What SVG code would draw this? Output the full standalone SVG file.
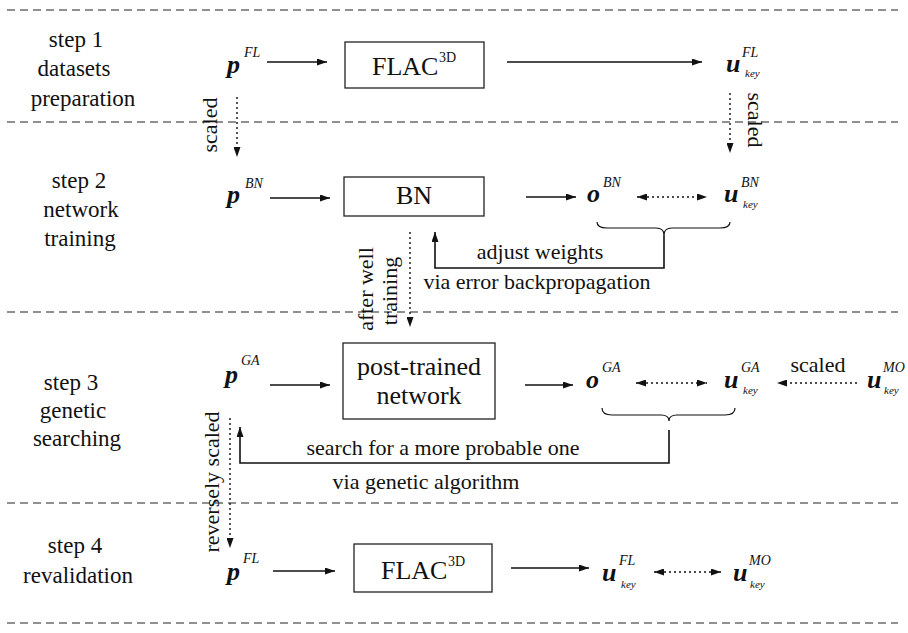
<svg xmlns="http://www.w3.org/2000/svg" width="908" height="633" viewBox="0 0 908 633">
<defs>
<style>
text{font-family:"Liberation Serif","Times New Roman",serif;fill:#111}
.step{font-size:23px;text-anchor:middle}
.lbl{font-size:22px}
.mid{text-anchor:middle}
.bt{font-size:26px}
.var{font-size:26px;font-weight:bold;font-style:italic}
.sup{font-size:14px;font-style:italic}
.sub{font-size:11px;font-style:italic}
.sep{stroke:#222;stroke-width:1.2;stroke-dasharray:8 5;fill:none}
.box{fill:none;stroke:#222;stroke-width:1.3}
.ar{stroke:#111;stroke-width:1.6;fill:none;marker-end:url(#ah)}
.dt{stroke:#111;stroke-width:1.4;fill:none;stroke-dasharray:2 3}
.dta{marker-end:url(#ah)}
.dtb{marker-start:url(#ah);marker-end:url(#ah)}
.br{stroke:#111;stroke-width:1.2;fill:none}
.fb{stroke:#111;stroke-width:1.6;fill:none;marker-end:url(#ah)}
</style>
<marker id="ah" viewBox="0 0 10 7" refX="10" refY="3.5" markerWidth="10" markerHeight="7" markerUnits="userSpaceOnUse" orient="auto-start-reverse">
<path d="M0,0 L10,3.5 L0,7 z" fill="#111"/>
</marker>
</defs>

<g id="separators">
<line class="sep" x1="7" y1="10" x2="898" y2="10"/>
<line class="sep" x1="7" y1="122" x2="898" y2="122"/>
<line class="sep" x1="7" y1="312" x2="898" y2="312"/>
<line class="sep" x1="7" y1="503" x2="898" y2="503"/>
<line class="sep" x1="7" y1="623" x2="898" y2="623"/>
</g>

<g id="step-labels">
<text class="step" x="76" y="47">step 1</text>
<text class="step" x="74" y="76">datasets</text>
<text class="step" x="83" y="106">preparation</text>
<text class="step" x="79" y="188">step 2</text>
<text class="step" x="81" y="217">network</text>
<text class="step" x="80" y="246">training</text>
<text class="step" x="71" y="390">step 3</text>
<text class="step" x="73" y="418">genetic</text>
<text class="step" x="77" y="446">searching</text>
<text class="step" x="75" y="553">step 4</text>
<text class="step" x="78" y="583">revalidation</text>
</g>

<!-- Step 1 -->
<g id="p-FL-1"><text class="var" x="227" y="73">p</text><text class="sup" x="244" y="57">FL</text></g>
<g id="flac-1"><rect class="box" x="345" y="42" width="139" height="46"/><text class="bt" x="372" y="75">FLAC</text><text class="sup" style="font-style:normal" x="439" y="62">3D</text></g>
<g id="u-FL-1"><text class="var" x="726" y="72">u</text><text class="sup" x="742" y="57">FL</text><text class="sub" x="745" y="77">key</text></g>

<!-- Step 2 -->
<g id="p-BN"><text class="var" x="227" y="203">p</text><text class="sup" x="245" y="188">BN</text></g>
<g id="bn"><rect class="box" x="344" y="177" width="140" height="39"/><text class="bt mid" x="414" y="204">BN</text></g>
<g id="o-BN"><text class="var" x="587" y="202">o</text><text class="sup" x="603" y="187">BN</text></g>
<g id="u-BN"><text class="var" x="724" y="202">u</text><text class="sup" x="741" y="187">BN</text><text class="sub" x="743" y="208">key</text></g>

<!-- Step 3 -->
<g id="p-GA"><text class="var" x="225" y="383">p</text><text class="sup" x="241" y="365">GA</text></g>
<g id="post-trained"><rect class="box" x="343" y="343" width="152" height="76"/><text class="bt mid" x="419" y="375">post-trained</text><text class="bt mid" x="419" y="404">network</text></g>
<g id="o-GA"><text class="var" x="586" y="388">o</text><text class="sup" x="602" y="372">GA</text></g>
<g id="u-GA"><text class="var" x="724" y="388">u</text><text class="sup" x="741" y="372">GA</text><text class="sub" x="743" y="394">key</text></g>
<g id="u-MO-3"><text class="var" x="867" y="388">u</text><text class="sup" x="883" y="372">MO</text><text class="sub" x="884" y="394">key</text></g>

<!-- Step 4 -->
<g id="p-FL-4"><text class="var" x="227" y="580">p</text><text class="sup" x="243" y="563">FL</text></g>
<g id="flac-4"><rect class="box" x="354" y="544" width="138" height="48"/><text class="bt" x="381" y="579">FLAC</text><text class="sup" style="font-style:normal" x="448" y="566">3D</text></g>
<g id="u-FL-4"><text class="var" x="602" y="581">u</text><text class="sup" x="619" y="565">FL</text><text class="sub" x="621" y="588">key</text></g>
<g id="u-MO-4"><text class="var" x="733" y="581">u</text><text class="sup" x="749" y="565">MO</text><text class="sub" x="750" y="588">key</text></g>

<g id="connectors">
<!-- step 1 -->
<line class="ar" x1="267" y1="62" x2="327" y2="62"/>
<line class="ar" x1="507" y1="62" x2="702" y2="62"/>
<line class="dt dta" x1="237" y1="97" x2="237" y2="157"/>
<text class="lbl mid" transform="translate(217,125) rotate(-90)">scaled</text>
<line class="dt dta" x1="730" y1="93" x2="730" y2="153"/>
<text class="lbl mid" transform="translate(748,120) rotate(90)">scaled</text>
<!-- step 2 -->
<line class="ar" x1="270" y1="198" x2="330" y2="198"/>
<line class="ar" x1="526" y1="197" x2="576" y2="197"/>
<line class="dt dtb" x1="637" y1="197" x2="707" y2="197"/>
<path class="br" d="M597,222 Q597,228 607,228 H656 Q664,228 664,235 Q664,228 672,228 H720 Q730,228 730,222"/>
<path class="fb" d="M664,235 V268 H435 V232"/>
<text class="lbl mid" x="540" y="259">adjust weights</text>
<text class="lbl mid" x="537" y="289">via error backpropagation</text>
<line class="dt dta" x1="410" y1="232" x2="410" y2="327"/>
<text class="lbl mid" transform="translate(373,289) rotate(-90)">after well</text>
<text class="lbl mid" transform="translate(397,291) rotate(-90)">training</text>
<!-- step 3 -->
<line class="ar" x1="270" y1="385" x2="330" y2="385"/>
<line class="ar" x1="525" y1="385" x2="573" y2="385"/>
<line class="dt dtb" x1="636" y1="383" x2="707" y2="383"/>
<line class="dt dta" x1="857" y1="383" x2="777" y2="383"/>
<text class="lbl mid" x="818" y="372">scaled</text>
<path class="br" d="M602,408 Q602,415 612,415 H661 Q669,415 669,421 Q669,415 677,415 H725 Q735,415 735,408"/>
<path class="fb" d="M669,430 V463 H240 V427"/>
<text class="lbl mid" x="443" y="455">search for a more probable one</text>
<text class="lbl mid" x="426" y="489">via genetic algorithm</text>
<line class="dt dta" x1="230" y1="418" x2="230" y2="548"/>
<text class="lbl mid" transform="translate(219,482) rotate(-90)">reversely scaled</text>
<!-- step 4 -->
<line class="ar" x1="273" y1="571" x2="335" y2="571"/>
<line class="ar" x1="511" y1="568" x2="589" y2="568"/>
<line class="dt dtb" x1="654" y1="572" x2="721" y2="572"/>
</g>
</svg>
